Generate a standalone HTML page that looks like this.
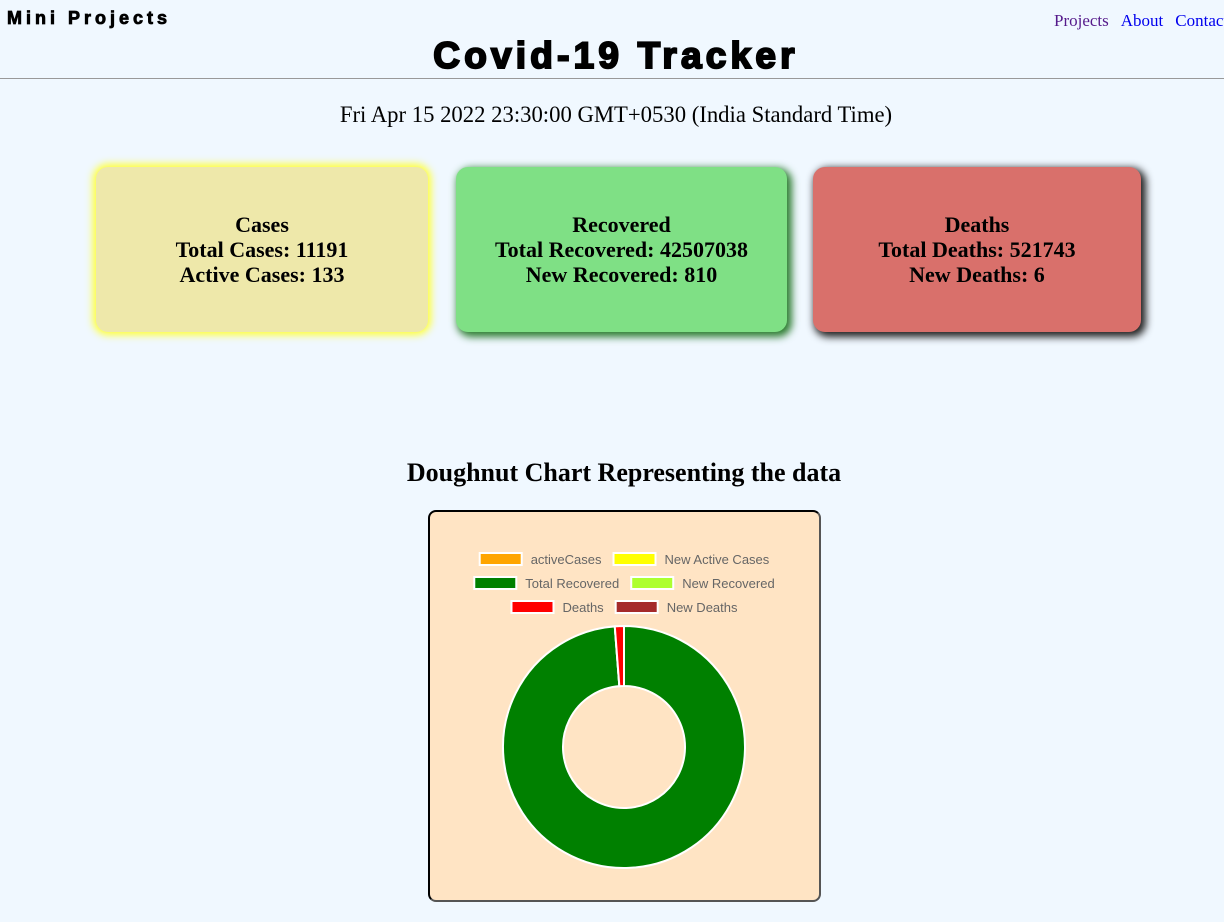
<!DOCTYPE html>
<html><head><meta charset="utf-8">
<style>
body{margin:0;background:#f0f8ff;width:1224px;height:922px;overflow:hidden;position:relative;font-family:"Liberation Serif",serif;}
.brand{position:absolute;left:7px;top:8px;font-family:"Liberation Sans",sans-serif;font-weight:900;font-size:18px;letter-spacing:4px;color:#000;-webkit-text-stroke:0.8px #000;}
.nav{position:absolute;left:1054px;top:11px;font-size:17px;white-space:nowrap;}
.nav a{text-decoration:none;margin-right:12px;color:#00e;}
.nav a.v{color:#551a8b;}
h1{position:absolute;left:0;width:1232px;top:35px;margin:0;text-align:center;font-family:"Liberation Sans",sans-serif;font-weight:900;font-size:37px;letter-spacing:4.2px;color:#000;-webkit-text-stroke:2px #000;}
.hr{position:absolute;left:0;top:78px;width:1224px;height:1px;background:#999;}
.date{position:absolute;left:0;width:1232px;top:102px;text-align:center;font-size:22.7px;}
.card{position:absolute;top:167px;height:165px;border-radius:12px;display:flex;align-items:center;justify-content:center;text-align:center;font-weight:bold;font-size:22px;line-height:25px;}
.c1{left:96px;width:332px;background:#eee8aa;box-shadow:0 0 8px 3px #ffff33;}
.c2{left:456px;width:331px;background:#7fe085;box-shadow:3px 3px 8px 2px #2e7d32;}
.c3{left:813px;width:328px;background:#d9706b;box-shadow:3px 3px 8px 2px #222;}
h2{position:absolute;left:0;width:1248px;top:458px;margin:0;text-align:center;font-size:26px;}
.box{position:absolute;left:428px;top:510px;width:389px;height:388px;background:#ffe4c4;border:2px solid #000;border-right-color:#555;border-bottom-color:#555;border-radius:8px;}
</style></head><body>
<div class="brand">Mini Projects</div>
<div class="nav"><a class="v" href="#">Projects</a><a href="#">About</a><a href="#">Contact</a></div>
<h1>Covid-19 Tracker</h1>
<div class="hr"></div>
<div class="date">Fri Apr 15 2022 23:30:00 GMT+0530 (India Standard Time)</div>
<div class="card c1"><div>Cases<br>Total Cases: 11191<br>Active Cases: 133</div></div>
<div class="card c2"><div>Recovered<br>Total Recovered: 42507038<br>New Recovered: 810</div></div>
<div class="card c3"><div>Deaths<br>Total Deaths: 521743<br>New Deaths: 6</div></div>
<h2>Doughnut Chart Representing the data</h2>
<div class="box">
<svg id="chart" width="389" height="388"></svg>
</div>
<script>
const labels=["activeCases","New Active Cases","Total Recovered","New Recovered","Deaths","New Deaths"];
const values=[133,0,42507038,810,521743,6];
const colors=["orange","yellow","green","greenyellow","red","brown"];
const NS="http://www.w3.org/2000/svg";
const svg=document.getElementById("chart");
const rows=[[0,1],[2,3],[4,5]];
rows.forEach((r,ri)=>{
  const y=41+ri*24;
  const entries=r.map(i=>{
    const g=document.createElementNS(NS,"g");
    
    
    const rc=document.createElementNS(NS,"rect");
    rc.setAttribute("y",y);rc.setAttribute("width",42);rc.setAttribute("height",12);
    rc.setAttribute("fill",colors[i]);rc.setAttribute("stroke","#fff");rc.setAttribute("stroke-width",2);
    g.appendChild(rc);
    const t=document.createElementNS(NS,"text");
    t.setAttribute("y",y+11);t.setAttribute("font-size",13);
    t.setAttribute("font-family","Liberation Sans, sans-serif");t.setAttribute("fill","#666");
    t.textContent=labels[i];g.appendChild(t);
    svg.appendChild(g);
    return {rc,t,w:51+t.getComputedTextLength()};
  });
  const gap=12;
  let tot=entries.reduce((s,e)=>s+e.w,0)+gap*(entries.length-1);
  let x=194.5-tot/2;
  entries.forEach(e=>{
    e.rc.setAttribute("x",x);e.t.setAttribute("x",x+51);
    x+=e.w+gap;
  });
});
const cx=194,cy=235,R=121,r0=61;
const total=values.reduce((a,b)=>a+b,0);
let a=-Math.PI/2;
values.forEach((v,i)=>{
  if(v<=0)return;
  const a2=a+v/total*2*Math.PI;
  const large=(a2-a)>Math.PI?1:0;
  const p=(rr,ang)=>[cx+rr*Math.cos(ang),cy+rr*Math.sin(ang)];
  const [x1,y1]=p(R,a),[x2,y2]=p(R,a2),[x3,y3]=p(r0,a2),[x4,y4]=p(r0,a);
  const path=document.createElementNS(NS,"path");
  path.setAttribute("d",`M${x1},${y1}A${R},${R} 0 ${large} 1 ${x2},${y2}L${x3},${y3}A${r0},${r0} 0 ${large} 0 ${x4},${y4}Z`);
  path.setAttribute("fill",colors[i]);path.setAttribute("stroke","#fff");path.setAttribute("stroke-width",2);
  
  
  svg.appendChild(path);
  a=a2;
});
</script>
</body></html>
